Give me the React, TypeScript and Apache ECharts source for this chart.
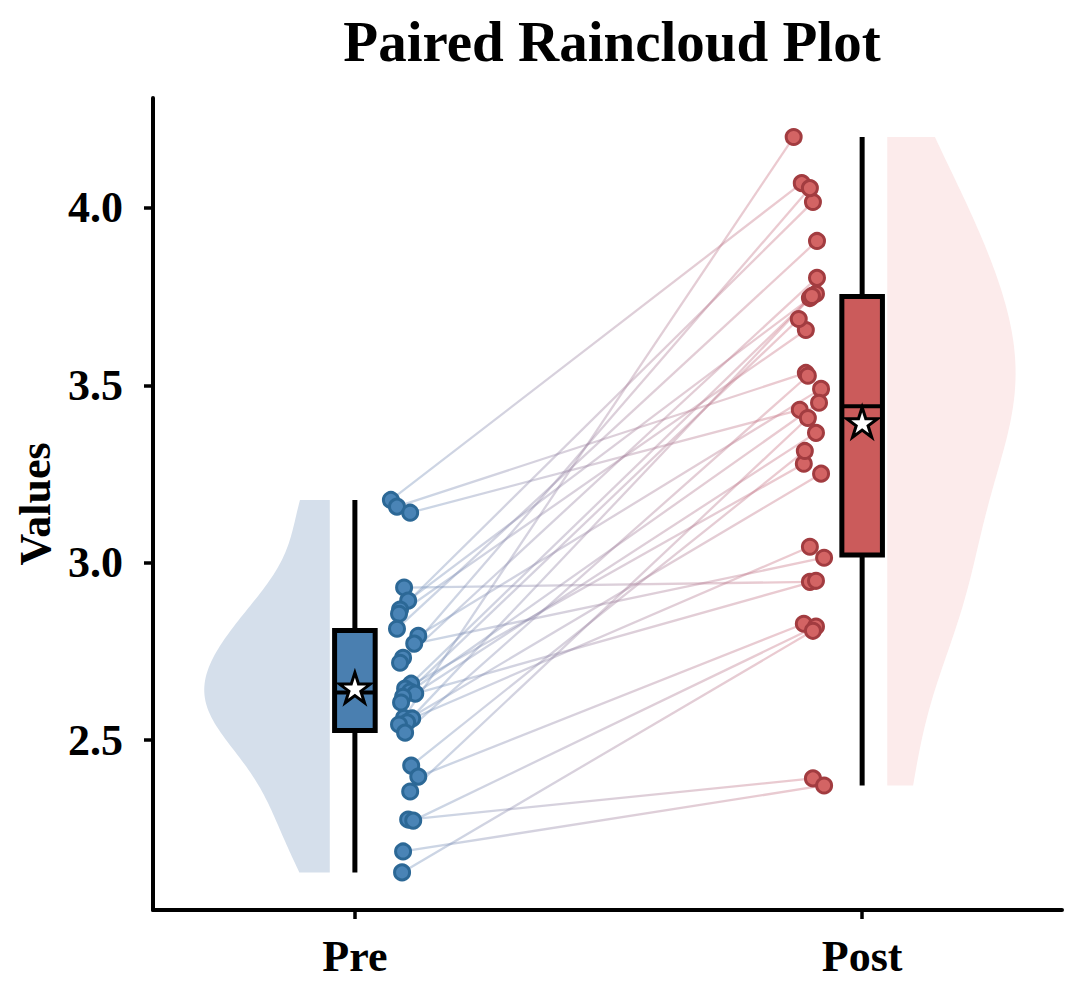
import React, { useEffect, useRef } from "react";
import * as echarts from "echarts";

const categories = ["Pre", "Post"];
const yTicks = [2.5, 3.0, 3.5, 4.0];

// paired observations (index i of pre pairs with index i of post)
const preValues = [3.177, 3.158, 3.141, 2.930, 2.893, 2.868, 2.856, 2.814, 2.794, 2.772, 2.732, 2.718, 2.659, 2.645, 2.637, 2.631, 2.622, 2.606, 2.563, 2.561, 2.550, 2.544, 2.521, 2.428, 2.397, 2.355, 2.276, 2.273, 2.186, 2.127];
const postValues = [4.070, 3.535, 3.431, 2.946, 3.758, 4.017, 3.656, 3.907, 3.490, 3.014, 4.056, 3.803, 3.746, 3.279, 3.451, 2.949, 3.687, 3.366, 4.200, 3.045, 3.752, 3.251, 3.527, 3.315, 2.828, 3.408, 2.392, 2.820, 2.372, 2.808];
// horizontal jitter of each point, in category units
const preJitter = [0.071, 0.083, 0.109, 0.097, 0.105, 0.089, 0.087, 0.083, 0.125, 0.117, 0.095, 0.089, 0.111, 0.099, 0.109, 0.119, 0.095, 0.091, 0.097, 0.113, 0.103, 0.087, 0.099, 0.111, 0.125, 0.109, 0.105, 0.115, 0.095, 0.093];
const postJitter = [-0.119, -0.111, -0.123, -0.103, -0.091, -0.097, -0.111, -0.089, -0.081, -0.075, -0.103, -0.089, -0.103, -0.115, -0.085, -0.091, -0.125, -0.091, -0.135, -0.103, -0.099, -0.081, -0.107, -0.113, -0.115, -0.107, -0.097, -0.091, -0.075, -0.097];

const FONT = '"Liberation Serif", "Times New Roman", serif';

function quantile(s: number[], p: number) {
  const idx = (s.length - 1) * p;
  const lo = Math.floor(idx);
  const hi = Math.ceil(idx);
  return s[lo] + (s[hi] - s[lo]) * (idx - lo);
}
function stats(vals: number[]) {
  const s = [...vals].sort((a, b) => a - b);
  return {
    min: s[0],
    q1: quantile(s, 0.25),
    med: quantile(s, 0.5),
    q3: quantile(s, 0.75),
    max: s[s.length - 1],
    mean: vals.reduce((a, b) => a + b, 0) / vals.length,
  };
}
function kde(vals: number[], n = 120) {
  const N = vals.length;
  const m = vals.reduce((a, b) => a + b, 0) / N;
  const sd = Math.sqrt(vals.reduce((a, v) => a + (v - m) * (v - m), 0) / (N - 1));
  const bw = sd * Math.pow(N, -1 / 5);
  const lo = Math.min(...vals);
  const hi = Math.max(...vals);
  const out: number[][] = [];
  let dmax = 0;
  for (let i = 0; i <= n; i++) {
    const y = lo + ((hi - lo) * i) / n;
    let d = 0;
    for (const v of vals) d += Math.exp(-0.5 * ((y - v) / bw) ** 2);
    out.push([y, d]);
    if (d > dmax) dmax = d;
  }
  return out.map(([y, d]) => [y, d / dmax]);
}

const preStats = stats(preValues);
const postStats = stats(postValues);
const preKde = kde(preValues);
const postKde = kde(postValues);

export default function App() {
  const ref = useRef<HTMLDivElement>(null);
  useEffect(() => {
    if (!ref.current) return;
    const chart = echarts.init(ref.current, undefined, { renderer: "svg" });

    const violins = [
      { pos: 0, side: -1, edge: 0.0495, width: 0.2475, dens: preKde, fill: "#d5dfeb" },
      { pos: 1, side: 1, edge: 0.0495, width: 0.253, dens: postKde, fill: "#fcebeb" },
    ];
    const boxes = [
      { pos: 0, s: preStats, fill: "#4a7fb0" },
      { pos: 1, s: postStats, fill: "#cb5b5b" },
    ];

    const option: any = {
      animation: false,
      title: {
        text: "Paired Raincloud Plot",
        left: 599,
        top: 0,
        textAlign: "center",
        textStyle: { fontFamily: FONT, fontWeight: "bold", fontSize: 57, color: "#000" },
      },
      grid: { left: 145, right: 10, top: 90, bottom: 77 },
      xAxis: {
        type: "value",
        min: -0.398,
        max: 1.394,
        splitLine: { show: false },
        axisLine: { show: true, onZero: false, lineStyle: { color: "#000", width: 4 } },
        axisTick: { show: true, length: 9, customValues: [0, 1], lineStyle: { color: "#000", width: 3.5 } },
        axisLabel: {
          customValues: [0, 1],
          formatter: (v: number) => categories[Math.round(v)] ?? "",
          margin: 24,
          fontFamily: FONT,
          fontWeight: "bold",
          fontSize: 44,
          color: "#000",
        },
      },
      yAxis: {
        type: "value",
        min: 2.021,
        max: 4.31,
        splitLine: { show: false },
        axisLine: { show: true, onZero: false, lineStyle: { color: "#000", width: 4 } },
        axisTick: { show: true, length: 9, customValues: yTicks, lineStyle: { color: "#000", width: 3.5 } },
        axisLabel: {
          customValues: yTicks,
          formatter: (v: number) => v.toFixed(1),
          margin: 30,
          fontFamily: FONT,
          fontWeight: "bold",
          fontSize: 44,
          color: "#000",
        },
      },
      graphic: [
        {
          type: "text",
          x: 27,
          y: 496,
          rotation: Math.PI / 2,
          style: {
            text: "Values",
            align: "center",
            verticalAlign: "middle",
            font: `bold 44px ${FONT}`,
            fill: "#000",
          },
        },
      ],
      series: [
        {
          type: "custom",
          z: 1,
          data: violins.map((v) => [v.pos, 3]),
          encode: { x: 0, y: 1 },
          renderItem: (params: any, api: any) => {
            const v = violins[params.dataIndex];
            const x0 = v.pos + v.side * v.edge;
            const pts: number[][] = [];
            for (const [y] of v.dens) pts.push(api.coord([x0, y]));
            for (let i = v.dens.length - 1; i >= 0; i--) {
              const [y, d] = v.dens[i];
              pts.push(api.coord([x0 + v.side * v.width * d, y]));
            }
            return { type: "polygon", shape: { points: pts }, style: { fill: v.fill } };
          },
        },
        {
          type: "custom",
          z: 2,
          data: preValues.map((p, i) => [preJitter[i], p, 1 + postJitter[i], postValues[i]]),
          encode: { x: [0, 2], y: [1, 3] },
          renderItem: (params: any, api: any) => {
            const a = api.coord([api.value(0), api.value(1)]);
            const b = api.coord([api.value(2), api.value(3)]);
            return {
              type: "line",
              shape: { x1: a[0], y1: a[1], x2: b[0], y2: b[1] },
              style: {
                stroke: new echarts.graphic.LinearGradient(0, 0, 1, 0, [
                  { offset: 0, color: "rgba(105,140,185,0.36)" },
                  { offset: 1, color: "rgba(205,105,120,0.36)" },
                ]),
                lineWidth: 2.3,
              },
            };
          },
        },
        {
          type: "custom",
          z: 3,
          data: boxes.map((b) => [b.pos, b.s.min, b.s.q1, b.s.med, b.s.q3, b.s.max]),
          encode: { x: 0, y: [1, 2, 3, 4, 5] },
          renderItem: (params: any, api: any) => {
            const b = boxes[params.dataIndex];
            const hw = 0.04;
            const top = api.coord([b.pos, b.s.max]);
            const bot = api.coord([b.pos, b.s.min]);
            const q3l = api.coord([b.pos - hw, b.s.q3]);
            const q1r = api.coord([b.pos + hw, b.s.q1]);
            const ml = api.coord([b.pos - hw, b.s.med]);
            const mr = api.coord([b.pos + hw, b.s.med]);
            return {
              type: "group",
              children: [
                {
                  type: "line",
                  shape: { x1: top[0], y1: top[1], x2: bot[0], y2: bot[1] },
                  style: { stroke: "#000", lineWidth: 5 },
                },
                {
                  type: "rect",
                  shape: { x: q3l[0], y: q3l[1], width: q1r[0] - q3l[0], height: q1r[1] - q3l[1] },
                  style: { fill: b.fill, stroke: "#000", lineWidth: 5 },
                },
                {
                  type: "line",
                  shape: { x1: ml[0], y1: ml[1], x2: mr[0], y2: mr[1] },
                  style: { stroke: "#000", lineWidth: 4 },
                },
              ],
            };
          },
        },
        {
          type: "scatter",
          z: 4,
          symbol: "circle",
          symbolSize: 15,
          data: preValues.map((p, i) => [preJitter[i], p]),
          itemStyle: { color: "#4a84b6", borderColor: "#2c6896", borderWidth: 3, opacity: 1 },
        },
        {
          type: "scatter",
          z: 4,
          symbol: "circle",
          symbolSize: 15,
          data: postValues.map((p, i) => [1 + postJitter[i], p]),
          itemStyle: { color: "#d36464", borderColor: "#a23c40", borderWidth: 3, opacity: 1 },
        },
        {
          type: "scatter",
          z: 5,
          symbol:
            "path://M50,0 L61.2,34.5 L97.6,34.5 L68.2,55.9 L79.4,90.5 L50,69.1 L20.6,90.5 L31.8,55.9 L2.4,34.5 L38.8,34.5 Z",
          symbolSize: [31, 30],
          data: [
            [0, preStats.mean],
            [1, postStats.mean],
          ],
          itemStyle: { color: "#fff", borderColor: "#000", borderWidth: 3, opacity: 1 },
        },
      ],
    };
    chart.setOption(option);
    return () => chart.dispose();
  }, []);
  return <div ref={ref} style={{ width: 1064, height: 979 }} />;
}
